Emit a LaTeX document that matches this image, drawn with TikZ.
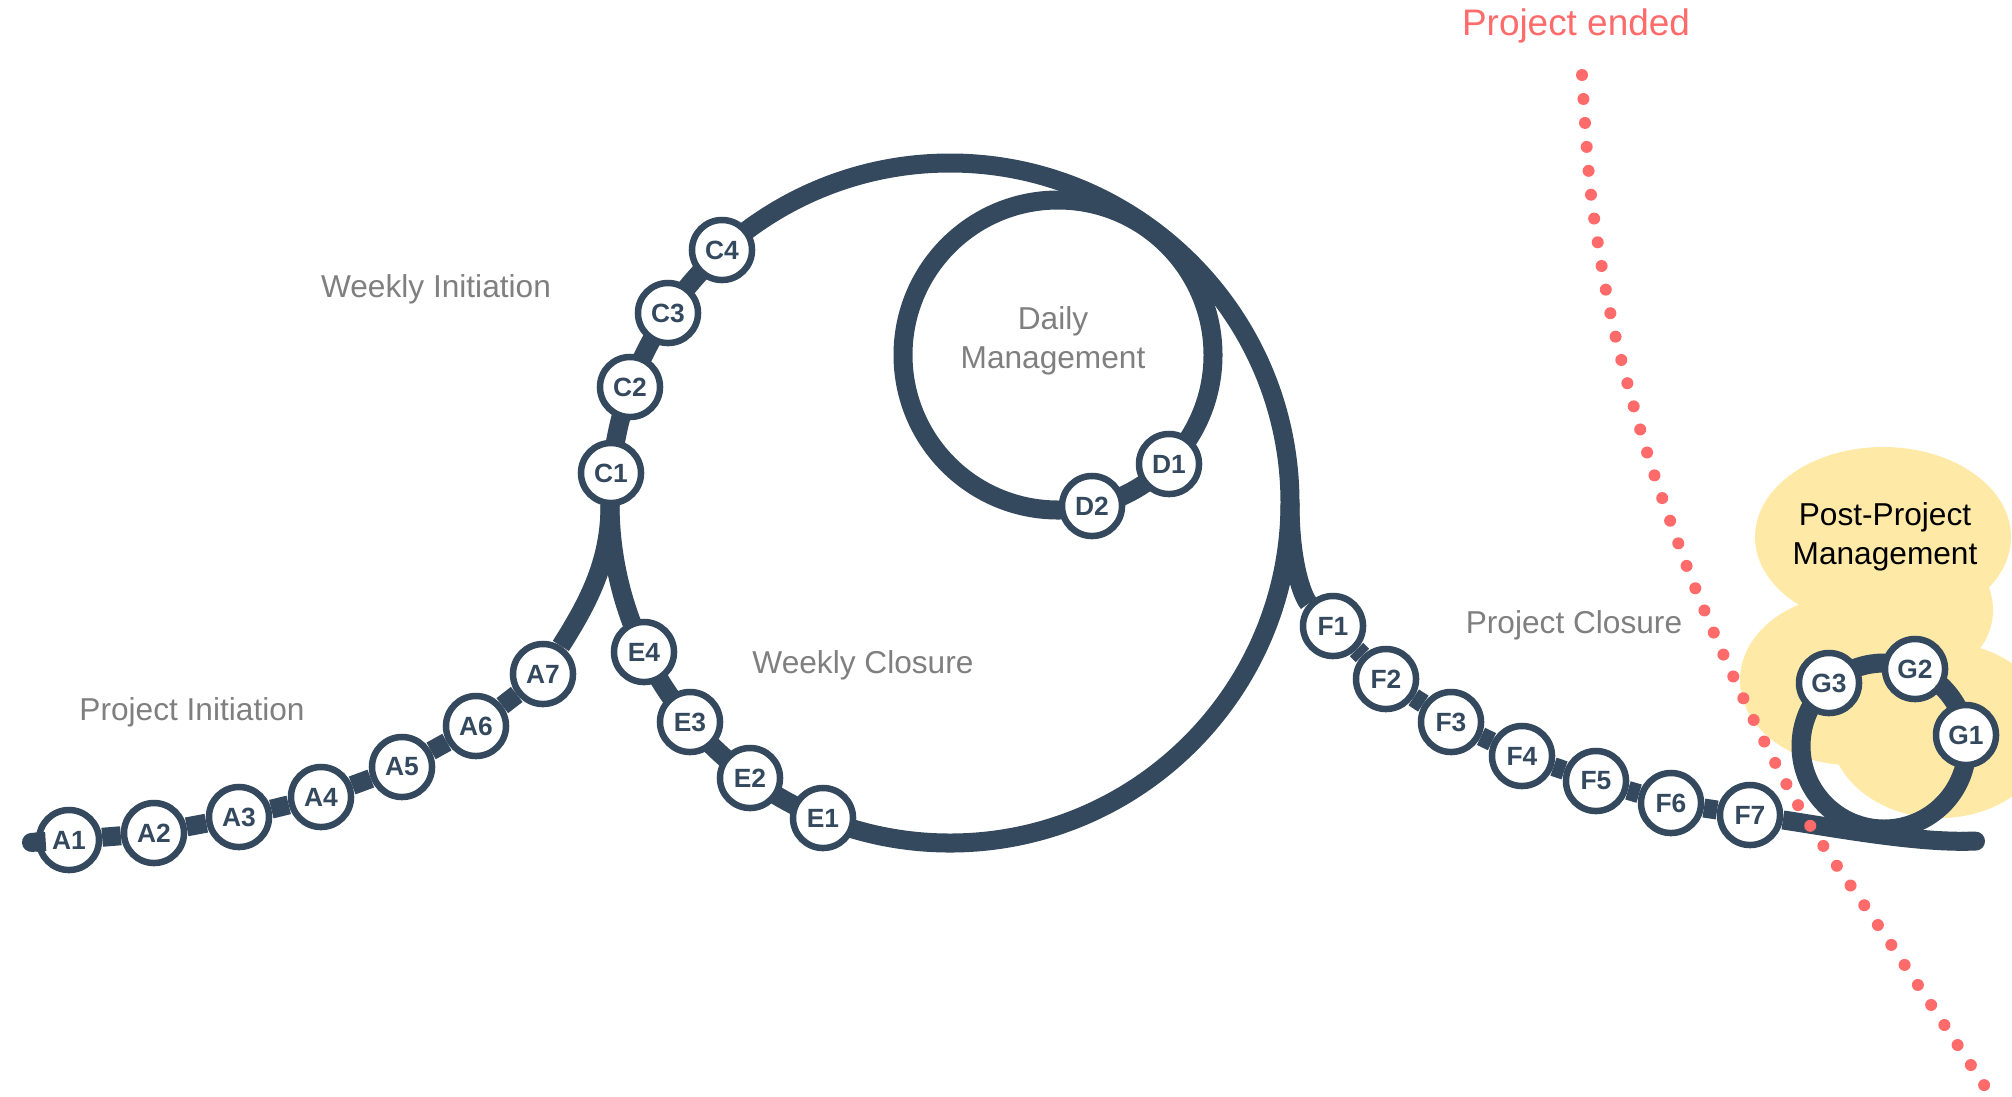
\documentclass[tikz,border=0pt]{standalone}
\usepackage{fontspec}
\setmainfont{Liberation Sans}
\usetikzlibrary{arrows.meta}

\definecolor{navy}{HTML}{34495E}
\definecolor{labelgray}{HTML}{7F7F7F}
\definecolor{endred}{HTML}{FF6B6B}
\definecolor{cloudyellow}{HTML}{FFE9A6}

\begin{document}
\begin{tikzpicture}[x=0.01cm, y=-0.01cm,
    track/.style={navy, line width=0.19cm},
    bead/.style={circle, draw=navy, fill=white, line width=0.065cm, minimum size=0.6cm,
        inner sep=0pt, text=navy, font=\fontsize{7.5}{9}\selectfont\bfseries},
    phase/.style={text=labelgray, font=\fontsize{9}{11.2}\selectfont, align=center},
    endline/.style={endred, line width=0.12cm, line cap=round, dash pattern=on 0pt off 0.24cm}]
    \useasboundingbox (0,0) rectangle (2012,1096);

    % Cloud
    \fill[cloudyellow] (1883,537) ellipse [x radius=128, y radius=90];
    \fill[cloudyellow] (1850,680) ellipse [x radius=110, y radius=85];
    \fill[cloudyellow] (1930,610) circle [radius=63];
    \fill[cloudyellow] (1940,730) ellipse [x radius=110, y radius=88];

    % Loops
    \draw[track] (950,503) circle [radius=340];
    \draw[track] (1058,355) circle [radius=155];
    \draw[track] (1884,746) circle [radius=83];

    % Nodes
    \node[bead] (A1) at (69,840) {A1};
    \node[bead] (A2) at (154,833) {A2};
    \node[bead] (A3) at (239,817) {A3};
    \node[bead] (A4) at (321,797) {A4};
    \node[bead] (A5) at (402,767) {A5};
    \node[bead] (A6) at (476,726) {A6};
    \node[bead] (A7) at (543,674) {A7};
    \node[bead] (C1) at (611,473) {C1};
    \node[bead] (C2) at (630,387) {C2};
    \node[bead] (C3) at (668,313) {C3};
    \node[bead] (C4) at (722,250) {C4};
    \node[bead] (D1) at (1169,464) {D1};
    \node[bead] (D2) at (1092,506) {D2};
    \node[bead] (E1) at (823,818) {E1};
    \node[bead] (E2) at (750,778) {E2};
    \node[bead] (E3) at (690,722) {E3};
    \node[bead] (E4) at (644,652) {E4};
    \node[bead] (F1) at (1333,626) {F1};
    \node[bead] (F2) at (1386,679) {F2};
    \node[bead] (F3) at (1451,722) {F3};
    \node[bead] (F4) at (1522,756) {F4};
    \node[bead] (F5) at (1596,781) {F5};
    \node[bead] (F6) at (1671,803) {F6};
    \node[bead] (F7) at (1750,815) {F7};
    \node[bead] (G1) at (1966,735) {G1};
    \node[bead] (G2) at (1915,669) {G2};
    \node[bead] (G3) at (1829,683) {G3};

    \coordinate (start) at (22,843);
    \coordinate (lfork) at (610,505);
    \coordinate (rfork) at (1290,503);
    \coordinate (finish) at (1985,841);

    % Edges
    \draw[track, {Round Cap[]}-] (start) -- (A1);
    \draw[track] (A1) -- (A2) -- (A3) -- (A4) -- (A5) -- (A6) -- (A7);
    \draw[track] (A7) .. controls (590,600) and (610,560) .. (lfork);
    \draw[track] (rfork) .. controls (1290,570) and (1305,600) .. (F1);
    \draw[track] (F1) -- (F2) -- (F3) -- (F4) -- (F5) -- (F6) -- (F7);
    \draw[track, -{Round Cap[]}] (F7) .. controls (1830,827) and (1910,842) .. (finish);

    % Labels
    \node[phase] (projinit) at (192,712) {Project Initiation};
    \node[phase] (weekinit) at (436,289) {Weekly Initiation};
    \node[phase] (weekclose) at (863,665) {Weekly Closure};
    \node[phase] (daily) at (1053,341) {Daily\\Management};
    \node[phase] (projclose) at (1574,625) {Project Closure};
    \node[phase, text=black] (post) at (1885,537) {Post-Project\\Management};
    \node[text=endred, font=\fontsize{10.5}{12}\selectfont] (ended) at (1576,26) {Project ended};

    % Project end
    \draw[endline] plot[smooth] coordinates {(1582,75) (1591,195) (1612,321) (1646,449) (1687,567)
        (1724,656) (1765,743) (1811,827) (1886,937) (1986,1088)};
\end{tikzpicture}
\end{document}
